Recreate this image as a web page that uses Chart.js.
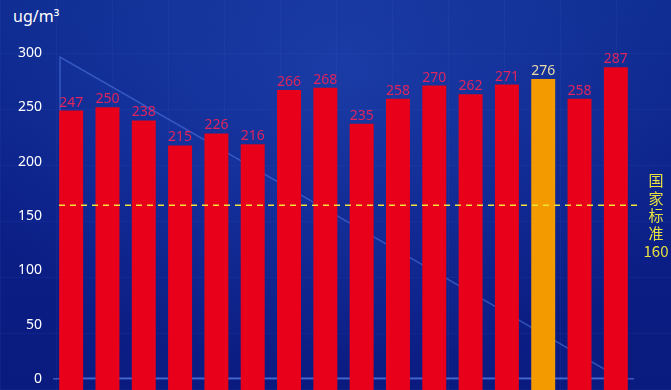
<!DOCTYPE html>
<html>
<head>
<meta charset="utf-8">
<script src="https://cdn.jsdelivr.net/npm/chart.js@4.4.1/dist/chart.umd.min.js"></script>
<style>
  html, body { margin: 0; padding: 0; }
  body {
    width: 671px; height: 390px; overflow: hidden; position: relative;
    background:
      radial-gradient(ellipse 420px 300px at 340px 70px, rgba(40,80,190,0.5), rgba(40,80,190,0) 100%),
      linear-gradient(180deg, #0d2a8e 0%, #0b2088 50%, #0a1a7e 100%);
  }
  #grid {
    position: absolute; left: 0; top: 0; width: 671px; height: 390px;
    background-image:
      repeating-linear-gradient(90deg, rgba(120,160,255,0.05) 0 1px, transparent 1px 56px),
      repeating-linear-gradient(0deg, rgba(120,160,255,0.05) 0 1px, transparent 1px 56px);
  }
  #deco { position: absolute; left: 0; top: 0; }
  #unit {
    position: absolute; left: 13px; top: 5px; color: #ffffff;
    font: 16px "Noto Sans", "DejaVu Sans", sans-serif;
  }
  #wrap { position: absolute; left: 0; top: 0; width: 671px; height: 390px; }
  canvas { display: block; }
</style>
</head>
<body>
<div id="grid"></div>
<svg id="deco" width="671" height="390">
  <polygon points="60,57 60,378 620,378" fill="rgba(60,100,220,0.04)" stroke="rgba(90,130,235,0.5)" stroke-width="1.5"/>
</svg>
<div id="unit">ug/m³</div>
<div id="wrap"><canvas id="c" width="671" height="390"></canvas></div>
<script>
const categories = ['1','2','3','4','5','6','7','8','9','10','11','12','13','14','15','16'];
const values = [247, 250, 238, 215, 226, 216, 266, 268, 235, 258, 270, 262, 271, 276, 258, 287];
const highlightIndex = [13];
const yTicks = [0, 50, 100, 150, 200, 250, 300];
const standardValue = 160;
const standardLabel = ['国', '家', '标', '准', '160'];

const barColors = values.map((v, i) => highlightIndex.includes(i) ? '#f39a00' : '#e8001a');
const labelColors = values.map((v, i) => highlightIndex.includes(i) ? '#e8dba6' : '#e0245e');

const overlay = {
  id: 'overlay',
  afterDatasetsDraw(chart) {
    const ctx = chart.ctx;
    const meta = chart.getDatasetMeta(0);
    ctx.save();
    ctx.font = '14px "Noto Sans", "DejaVu Sans", sans-serif';
    ctx.textAlign = 'center';
    ctx.textBaseline = 'bottom';
    meta.data.forEach((bar, i) => {
      ctx.fillStyle = labelColors[i];
      ctx.fillText(String(values[i]), bar.x, bar.y - 1);
    });
    // standard line
    const y = chart.scales.y.getPixelForValue(standardValue);
    const ca = chart.chartArea;
    ctx.strokeStyle = '#f2e23c';
    ctx.lineWidth = 1.5;
    ctx.setLineDash([6, 5]);
    ctx.beginPath();
    ctx.moveTo(ca.left + 6, y);
    ctx.lineTo(ca.right + 3, y);
    ctx.stroke();
    ctx.setLineDash([]);
    ctx.fillStyle = '#e6e040';
    ctx.font = '15px "Noto Sans CJK SC", "Noto Sans", sans-serif';
    ctx.textBaseline = 'middle';
    standardLabel.forEach((t, k) => {
      ctx.fillText(t, 656, y - 25 + k * 17.8);
    });
    ctx.restore();
  }
};

new Chart(document.getElementById('c'), {
  type: 'bar',
  data: {
    labels: categories,
    datasets: [{
      data: values,
      backgroundColor: barColors,
      borderWidth: 0,
      base: -10,
      barPercentage: 0.66,
      categoryPercentage: 1.0
    }]
  },
  options: {
    responsive: false,
    animation: false,
    events: [],
    layout: { padding: { left: 0, right: 37, top: 53, bottom: 0 } },
    plugins: { legend: { display: false }, tooltip: { enabled: false }, title: { display: false } },
    scales: {
      x: { display: false },
      y: {
        min: -10,
        max: 300,
        afterFit(scale) {
          scale.width = 53;
          scale.paddingTop = 0;
          scale.paddingBottom = 0;
        },
        afterBuildTicks(scale) {
          scale.ticks = yTicks.map(v => ({ value: v }));
        },
        border: { display: false },
        grid: {
          drawTicks: false,
          color: (c) => (c.tick && c.tick.value === 0) ? 'rgba(90,130,235,0.6)' : 'rgba(0,0,0,0)',
          lineWidth: 1.5
        },
        ticks: {
          color: '#ffffff',
          padding: 11,
          font: { size: 14, family: '"Noto Sans", "DejaVu Sans", sans-serif' }
        }
      }
    }
  },
  plugins: [overlay]
});
</script>
</body>
</html>
